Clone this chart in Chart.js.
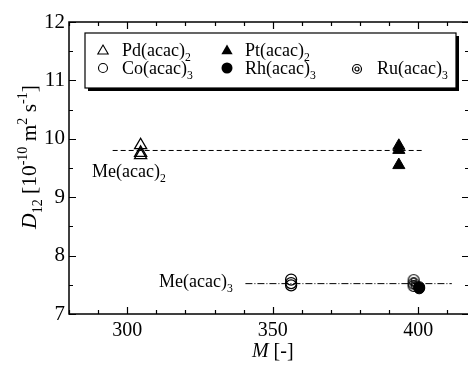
<!DOCTYPE html>
<html>
<head>
<meta charset="utf-8">
<script src="https://cdn.jsdelivr.net/npm/chart.js@4.4.1/dist/chart.umd.min.js"></script>
<style>
  body { margin: 0; background: #fff; overflow: hidden; }
  #wrap { width: 470px; height: 365px; }
</style>
</head>
<body>
<div id="wrap"><canvas id="chart" width="470" height="365"></canvas></div>
<script>
// molar mass M [-] and diffusion coefficient D12 [1e-10 m2/s]
const pdM = [304.6, 304.6, 304.6];
const pdD = [9.89, 9.76, 9.72];
const ptM = [393.3, 393.3, 393.3];
const ptD = [9.88, 9.81, 9.55];
const coM = [356.3, 356.3, 356.3];
const coD = [7.59, 7.53, 7.49];
const rhM = [400.3, 400.3];
const rhD = [7.46, 7.44];
const ruM = [398.4, 398.4, 398.4];
const ruD = [7.58, 7.52, 7.48];

// average lines
const me2X = [295, 401.5];
const me2Y = [9.8, 9.8];
const me3X = [340.6, 411.5];
const me3Y = [7.52, 7.52];

const xTicks = [300, 350, 400];
const yTicks = [7, 8, 9, 10, 11, 12];

const serif = "'Liberation Serif', 'Times New Roman', serif";

function pts(xs, ys) {
    return xs.map((x, i) => ({ x: x, y: ys[i] }));
}

// double circle marker for Ru(acac)3
function ringMarker(r1, r2) {
    const c = document.createElement("canvas");
    c.width = 16; c.height = 16;
    const g = c.getContext("2d");
    g.strokeStyle = "#000";
    g.lineWidth = 1.2;
    g.beginPath(); g.arc(8, 8, r1, 0, Math.PI * 2); g.stroke();
    g.beginPath(); g.arc(8, 8, r2, 0, Math.PI * 2); g.stroke();
    return c;
}
const ruIcon = ringMarker(5.5, 2.5);
const ruIconSmall = ringMarker(4.5, 2);

// draws text with sub/superscripts
function rich(ctx, parts, x, y, size, align) {
    const items = parts.map(p => {
        const s = p.s ? size * 0.65 : size;
        const f = (p.i ? "italic " : "") + s + "px " + serif;
        ctx.font = f;
        return { t: p.t, f: f, w: ctx.measureText(p.t).width, dy: p.s === "sub" ? size * 0.28 : (p.s === "sup" ? -size * 0.4 : 0) };
    });
    const total = items.reduce((a, b) => a + b.w, 0);
    let cx = align === "center" ? x - total / 2 : x;
    ctx.textAlign = "left";
    ctx.textBaseline = "alphabetic";
    items.forEach(it => {
        ctx.font = it.f;
        ctx.fillText(it.t, cx, y + it.dy);
        cx += it.w;
    });
}

function tri(ctx, x, y, r, filled) {
    ctx.beginPath();
    ctx.moveTo(x, y - r);
    ctx.lineTo(x + r * Math.sin(Math.PI / 3), y + r / 2);
    ctx.lineTo(x - r * Math.sin(Math.PI / 3), y + r / 2);
    ctx.closePath();
    if (filled) ctx.fill(); else ctx.stroke();
}
function circ(ctx, x, y, r, filled) {
    ctx.beginPath();
    ctx.arc(x, y, r, 0, Math.PI * 2);
    if (filled) ctx.fill(); else ctx.stroke();
}

const decorations = {
    id: "decorations",
    afterDraw(chart) {
        const ctx = chart.ctx;
        const a = chart.chartArea;
        const xs = chart.scales.x, ys = chart.scales.y;
        ctx.save();
        ctx.strokeStyle = "#000";
        ctx.fillStyle = "#000";
        ctx.lineWidth = 1.5;
        ctx.strokeRect(a.left, a.top, a.right - a.left, a.bottom - a.top);

        // inward ticks
        ctx.lineWidth = 1.2;
        ctx.beginPath();
        for (let v = 280; v <= xs.max; v += 10) {
            const px = Math.round(xs.getPixelForValue(v)) + 0.5;
            const len = v % 50 === 0 ? 7 : 4;
            ctx.moveTo(px, a.bottom); ctx.lineTo(px, a.bottom - len);
            ctx.moveTo(px, a.top); ctx.lineTo(px, a.top + len);
        }
        for (let v = 7; v <= 12; v += 0.5) {
            const py = Math.round(ys.getPixelForValue(v)) + 0.5;
            const len = v % 1 === 0 ? 7 : 4;
            ctx.moveTo(a.left, py); ctx.lineTo(a.left + len, py);
            ctx.moveTo(a.right, py); ctx.lineTo(a.right - len, py);
        }
        ctx.stroke();

        // axis titles
        rich(ctx, [{ t: "M", i: true }, { t: " [-]" }], xs.getPixelForValue(350), 357, 20, "center");
        ctx.save();
        ctx.translate(28, 157);
        ctx.rotate(-Math.PI / 2);
        rich(ctx, [
            { t: "D", i: true }, { t: "12", s: "sub" }, { t: " [10" }, { t: "-10", s: "sup" },
            { t: " m" }, { t: "2", s: "sup" }, { t: " s" }, { t: "-1", s: "sup" }, { t: "]" }
        ], 0, 8, 21.5, "center");
        ctx.restore();

        // line labels
        rich(ctx, [{ t: "Me(acac)" }, { t: "2", s: "sub" }], 92, 177, 18, "left");
        rich(ctx, [{ t: "Me(acac)" }, { t: "3", s: "sub" }], 159, 287, 18, "left");

        // legend box with shadow
        const bx = 85, by = 33, bw = 371, bh = 55;
        ctx.fillRect(bx + 3, by + 3, bw, bh);
        ctx.fillStyle = "#fff";
        ctx.fillRect(bx, by, bw, bh);
        ctx.fillStyle = "#000";
        ctx.lineWidth = 1.2;
        ctx.strokeRect(bx, by, bw, bh);

        ctx.lineWidth = 1.1;
        tri(ctx, 103, 51, 6, false);
        tri(ctx, 227, 51, 6.5, true);
        circ(ctx, 103, 68, 4.5, false);
        circ(ctx, 227, 68, 5.5, true);
        ctx.drawImage(ruIconSmall, 357 - 8, 69 - 8);
        rich(ctx, [{ t: "Pd(acac)" }, { t: "2", s: "sub" }], 122, 56, 18, "left");
        rich(ctx, [{ t: "Pt(acac)" }, { t: "2", s: "sub" }], 245, 56, 18, "left");
        rich(ctx, [{ t: "Co(acac)" }, { t: "3", s: "sub" }], 122, 74, 18, "left");
        rich(ctx, [{ t: "Rh(acac)" }, { t: "3", s: "sub" }], 245, 74, 18, "left");
        rich(ctx, [{ t: "Ru(acac)" }, { t: "3", s: "sub" }], 377, 74, 18, "left");
        ctx.restore();
    }
};

const context = document.getElementById("chart").getContext("2d");
const chart = new Chart(context, {
    type: "scatter",
    data: {
        datasets: [
            {
                label: "Me(acac)2",
                data: pts(me2X, me2Y),
                showLine: true,
                borderColor: "#000",
                borderWidth: 1,
                borderDash: [5, 3],
                pointRadius: 0
            },
            {
                label: "Me(acac)3",
                data: pts(me3X, me3Y),
                showLine: true,
                borderColor: "#000",
                borderWidth: 1,
                borderDash: [7, 2, 1, 2],
                pointRadius: 0
            },
            {
                label: "Pd(acac)2",
                data: pts(pdM, pdD),
                pointStyle: "triangle",
                pointRadius: 7,
                borderColor: "#000",
                backgroundColor: "rgba(0,0,0,0)",
                borderWidth: 1.3
            },
            {
                label: "Pt(acac)2",
                data: pts(ptM, ptD),
                pointStyle: "triangle",
                pointRadius: 7,
                borderColor: "#000",
                backgroundColor: "#000",
                borderWidth: 1
            },
            {
                label: "Co(acac)3",
                data: pts(coM, coD),
                pointStyle: "circle",
                pointRadius: 5.5,
                borderColor: "#000",
                backgroundColor: "rgba(0,0,0,0)",
                borderWidth: 1.3
            },
            {
                label: "Rh(acac)3",
                data: pts(rhM, rhD),
                pointStyle: "circle",
                pointRadius: 5.5,
                borderColor: "#000",
                backgroundColor: "#000",
                borderWidth: 1
            },
            {
                label: "Ru(acac)3",
                data: pts(ruM, ruD),
                pointStyle: ruIcon,
                pointRadius: 6
            }
        ]
    },
    options: {
        responsive: false,
        animation: false,
        layout: { autoPadding: false, padding: { top: 22, right: 1, left: 0, bottom: 0 } },
        plugins: { legend: { display: false }, tooltip: { enabled: false } },
        scales: {
            x: {
                type: "linear",
                min: 280,
                max: 417.4,
                grid: { display: false, drawTicks: false },
                border: { display: false },
                afterBuildTicks: s => { s.ticks = xTicks.map(v => ({ value: v })); },
                afterFit: s => { s.height = 51; s.paddingLeft = 0; s.paddingRight = 0; },
                ticks: { color: "#000", padding: 5, maxRotation: 0, font: { family: serif, size: 20 } }
            },
            y: {
                min: 7,
                max: 12,
                grid: { display: false, drawTicks: false },
                border: { display: false },
                afterBuildTicks: s => { s.ticks = yTicks.map(v => ({ value: v })); },
                afterFit: s => { s.width = 69; s.paddingTop = 0; s.paddingBottom = 0; },
                ticks: { color: "#000", padding: 4, font: { family: serif, size: 21 } }
            }
        }
    },
    plugins: [decorations]
});
</script>
</body>
</html>
